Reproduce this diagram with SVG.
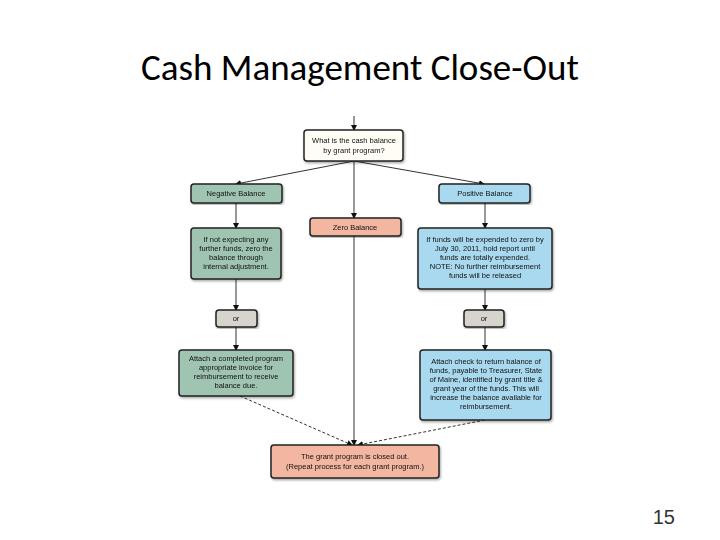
<svg xmlns="http://www.w3.org/2000/svg" width="720" height="540" viewBox="0 0 720 540">
<style>
.b{stroke:#222;stroke-width:1.5}
.g{fill:#9fc4b2}.bl{fill:#a9d9ef}.s{fill:#f3b6a0}.gr{fill:#d7d4ce}.w{fill:#fffdf5}
.t{font-family:"Liberation Sans",Arial,sans-serif;font-size:7.5px;fill:#111;text-anchor:middle}
.c{stroke:#333;stroke-width:1;fill:none}
.d{stroke-dasharray:3,2}
</style>
<defs>
<marker id="a" markerWidth="6" markerHeight="6" refX="5" refY="3" orient="auto" markerUnits="userSpaceOnUse"><path d="M0,0L6,3L0,6z" fill="#111"/></marker>
<filter id="sh"><feDropShadow dx="1" dy="1.5" stdDeviation="1" flood-opacity="0.35"/></filter>
</defs>
<rect width="720" height="540" fill="#fff"/>
<text x="360" y="80" font-family="Calibri,'Open Sans','Liberation Sans',Arial,sans-serif" font-size="37" text-anchor="middle" fill="#000">Cash Management Close-Out</text>
<text x="675" y="524" font-family="'Liberation Sans',Arial,sans-serif" font-size="20" text-anchor="end" fill="#333">15</text>
<g id="connectors">
<path class="c" d="M354,116V130" marker-end="url(#a)"/>
<path class="c" d="M354,161L236,184" marker-end="url(#a)"/>
<path class="c" d="M354,161L484,184" marker-end="url(#a)"/>
<path class="c" d="M354,161V218" marker-end="url(#a)"/>
<path class="c" d="M236,203V228" marker-end="url(#a)"/>
<path class="c" d="M485,203V228" marker-end="url(#a)"/>
<path class="c" d="M236,279V310" marker-end="url(#a)"/>
<path class="c" d="M485,289V310" marker-end="url(#a)"/>
<path class="c" d="M236,327V350" marker-end="url(#a)"/>
<path class="c" d="M485,327V350" marker-end="url(#a)"/>
<path class="c" d="M354,236V445" marker-end="url(#a)"/>
<path class="c d" d="M240,396L352,445" marker-end="url(#a)"/>
<path class="c d" d="M485,420L358,445" marker-end="url(#a)"/>
</g>
<g id="q" filter="url(#sh)"><rect class="b w" x="304" y="130" width="99" height="31" rx="3"/><text class="t" x="354" y="143">What is the cash balance</text><text class="t" x="354" y="153">by grant program?</text></g>
<g id="neg" filter="url(#sh)"><rect class="b g" x="191" y="184" width="91" height="19" rx="3"/><text class="t" x="236" y="196">Negative Balance</text></g>
<g id="pos" filter="url(#sh)"><rect class="b bl" x="439" y="184" width="91" height="19" rx="3"/><text class="t" x="485" y="196">Positive Balance</text></g>
<g id="zero" filter="url(#sh)"><rect class="b s" x="310" y="218" width="91" height="18" rx="3"/><text class="t" x="355" y="230">Zero Balance</text></g>
<g id="negtxt" filter="url(#sh)"><rect class="b g" x="191" y="228" width="90" height="51" rx="3"/>
<text class="t" x="236" y="242">If not expecting any</text><text class="t" x="236" y="251">further funds, zero the</text><text class="t" x="236" y="260">balance through</text><text class="t" x="236" y="269">internal adjustment.</text></g>
<g id="postxt" filter="url(#sh)"><rect class="b bl" x="418" y="228" width="134" height="61" rx="3"/>
<text class="t" x="485" y="242">If funds will be expended to zero by</text><text class="t" x="485" y="251">July 30, 2011, hold report until</text><text class="t" x="485" y="260">funds are totally expended.</text><text class="t" x="485" y="269">NOTE: No further reimbursement</text><text class="t" x="485" y="278">funds will be released</text></g>
<g id="or1" filter="url(#sh)"><rect class="b gr" x="216" y="310" width="41" height="17" rx="3"/><text class="t" x="236" y="321">or</text></g>
<g id="or2" filter="url(#sh)"><rect class="b gr" x="464" y="310" width="40" height="17" rx="3"/><text class="t" x="484" y="321">or</text></g>
<g id="negatt" filter="url(#sh)"><rect class="b g" x="179" y="350" width="114" height="46" rx="3"/>
<text class="t" x="236" y="361">Attach a completed program</text><text class="t" x="236" y="370">appropriate invoice for</text><text class="t" x="236" y="379">reimbursement to receive</text><text class="t" x="236" y="388">balance due.</text></g>
<g id="posatt" filter="url(#sh)"><rect class="b bl" x="420" y="350" width="131" height="70" rx="3"/>
<text class="t" x="486" y="364">Attach check to return balance of</text><text class="t" x="486" y="373">funds, payable to Treasurer, State</text><text class="t" x="486" y="382">of Maine, identified by grant title &amp;</text><text class="t" x="486" y="391">grant year of the funds.  This will</text><text class="t" x="486" y="400">increase the balance available for</text><text class="t" x="486" y="409">reimbursement.</text></g>
<g id="close" filter="url(#sh)"><rect class="b s" x="271" y="445" width="168" height="33" rx="3"/>
<text class="t" x="355" y="459">The grant program is closed out.</text><text class="t" x="355" y="469">(Repeat process for each grant program.)</text></g>
</svg>
